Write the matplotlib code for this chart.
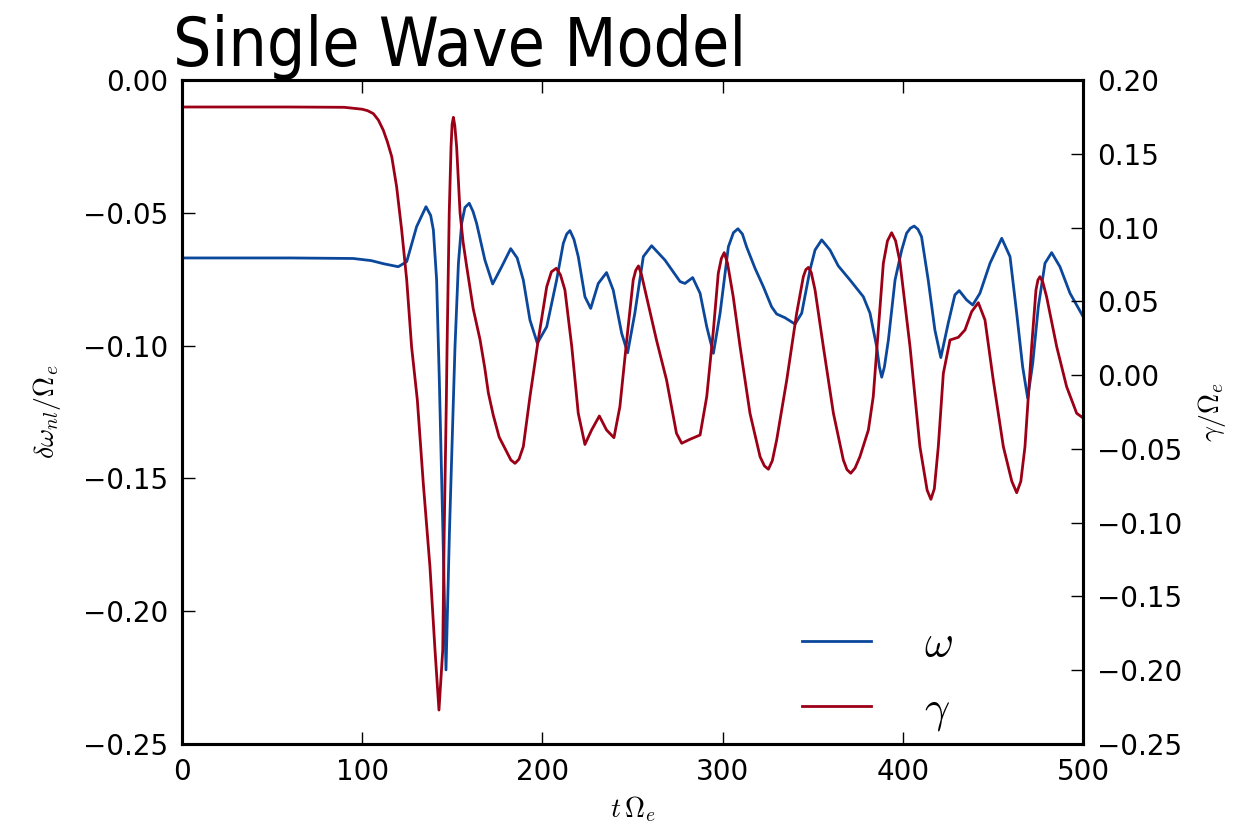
import matplotlib
matplotlib.use("Agg")
import matplotlib.pyplot as plt
from matplotlib.ticker import MultipleLocator, FuncFormatter

# ---- data ----
t_omega = [0, 60, 95, 105, 112, 120, 124.7, 130.2, 135.4, 138.0, 139.5, 141.3, 142.8,
           144.8, 146.5, 148.4, 150.6, 151.5, 153.4, 155.2, 157.0, 159.4, 161.5, 163.5,
           168.1, 172.4, 177.4, 182.4, 186.0, 189.4, 193.1, 197.2, 202.4, 207.9, 211.6,
           213.5, 215.3, 217.5, 219.9, 223.6, 226.8, 231.0, 235.6, 239.3, 244.0, 247.3,
           251.3, 256.0, 260.6, 268.0, 276.4, 279.1, 283.4, 287.5, 291.2, 294.9, 298.6,
           303.2, 306.0, 308.5, 311.0, 313.3, 318.0, 322.6, 327.2, 330.0, 334.6, 340.2,
           343.9, 348.5, 351.3, 355.0, 359.6, 364.2, 370.7, 378.1, 381.8, 385.5, 387.0,
           388.3, 389.8, 392.0, 395.7, 399.4, 402.1, 404.2, 406.3, 408.4, 410.4, 414.1,
           417.8, 421.1, 425.2, 428.9, 431.3, 435.4, 438.8, 442.8, 448.4, 454.9, 459.5,
           463.2, 466.5, 469.3, 472.1, 475.2, 478.9, 482.6, 487.2, 492.8, 500]
omega = [-0.0670, -0.0670, -0.0672, -0.0680, -0.0692, -0.0703, -0.0684, -0.0552, -0.0477,
         -0.0510, -0.0565, -0.0753, -0.1130, -0.1706, -0.2221, -0.1706, -0.1205, -0.1004,
         -0.0690, -0.0540, -0.0480, -0.0464, -0.0495, -0.0540, -0.0678, -0.0768, -0.0703,
         -0.0635, -0.0670, -0.0753, -0.0904, -0.0991, -0.0929, -0.0753, -0.0615, -0.0580,
         -0.0567, -0.0600, -0.0665, -0.0816, -0.0860, -0.0766, -0.0725, -0.0791, -0.0954,
         -0.1027, -0.0878, -0.0665, -0.0624, -0.0678, -0.0759, -0.0766, -0.0744, -0.0803,
         -0.0929, -0.1029, -0.0878, -0.0628, -0.0575, -0.0560, -0.0580, -0.0628, -0.0709,
         -0.0778, -0.0854, -0.0881, -0.0895, -0.0919, -0.0878, -0.0715, -0.0640, -0.0602,
         -0.0640, -0.0700, -0.0753, -0.0816, -0.0878, -0.1004, -0.1080, -0.1119, -0.1080,
         -0.0979, -0.0753, -0.0640, -0.0577, -0.0558, -0.0550, -0.0562, -0.0590, -0.0753,
         -0.0941, -0.1045, -0.0916, -0.0809, -0.0793, -0.0828, -0.0847, -0.0803, -0.0690,
         -0.0596, -0.0665, -0.0878, -0.1079, -0.1198, -0.1067, -0.0854, -0.0690, -0.0650,
         -0.0703, -0.0803, -0.0890]

t_gamma = [0, 60, 90, 100, 103.0, 106.2, 109.0, 111.7, 114.0, 116.4, 119.1, 121.9, 124.7,
           127.4, 130.6, 133.9, 137.6, 140.4, 142.6, 144.7, 145.5, 146.7, 147.1, 148.3,
           149.3, 149.9, 150.6, 151.4, 152.4, 154.3, 156.0, 158.0, 161.6, 165.4, 168.0,
           170.0, 172.7, 176.0, 180.2, 182.5, 184.8, 187.0, 189.4, 193.1, 197.7, 202.4,
           205.0, 207.7, 210.0, 212.5, 216.3, 219.9, 223.6, 227.3, 231.6, 235.6, 239.7,
           243.0, 246.8, 250.4, 251.8, 253.3, 255.0, 257.8, 263.3, 268.9, 274.4, 277.3,
           281.9, 287.5, 291.2, 294.9, 297.6, 299.3, 300.9, 302.7, 305.9, 309.7, 315.2,
           320.8, 323.2, 325.4, 327.6, 330.0, 335.6, 341.1, 344.8, 346.2, 347.6, 349.2,
           351.3, 355.9, 361.5, 367.0, 369.0, 371.1, 373.5, 376.2, 380.9, 383.6, 386.4,
           389.2, 391.5, 393.8, 396.0, 398.4, 404.0, 409.5, 413.5, 415.6, 417.5, 419.7,
           422.5, 426.2, 430.8, 434.5, 438.2, 441.9, 445.6, 450.2, 455.8, 460.5, 463.2,
           465.5, 467.8, 471.5, 473.9, 475.0, 476.1, 477.7, 479.8, 485.4, 490.9, 496.5, 500]
gamma = [0.1817, 0.1817, 0.1815, 0.1802, 0.1792, 0.1772, 0.1728, 0.1660, 0.1580, 0.1480,
         0.1277, 0.0984, 0.0645, 0.0193, -0.0169, -0.0734, -0.1299, -0.1863, -0.2270,
         -0.1863, -0.1070, -0.0169, 0.0193, 0.1100, 0.1548, 0.1700, 0.1747, 0.1690,
         0.1548, 0.1100, 0.0900, 0.0735, 0.0450, 0.0240, 0.0050, -0.0120, -0.0270,
         -0.0420, -0.0520, -0.0575, -0.0598, -0.0570, -0.0485, -0.0146, 0.0238, 0.0599,
         0.0700, 0.0724, 0.0680, 0.0577, 0.0193, -0.0259, -0.0470, -0.0372, -0.0277,
         -0.0372, -0.0424, -0.0214, 0.0238, 0.0645, 0.0710, 0.0740, 0.0680, 0.0531,
         0.0238, -0.0033, -0.0394, -0.0462, -0.0435, -0.0406, -0.0146, 0.0306, 0.0690,
         0.0790, 0.0830, 0.0760, 0.0531, 0.0193, -0.0259, -0.0553, -0.0615, -0.0638,
         -0.0580, -0.0440, -0.0033, 0.0419, 0.0667, 0.0715, 0.0730, 0.0695, 0.0577,
         0.0193, -0.0259, -0.0575, -0.0640, -0.0665, -0.0630, -0.0553, -0.0372, -0.0146,
         0.0306, 0.0758, 0.0910, 0.0965, 0.0910, 0.0769, 0.0193, -0.0485, -0.0780,
         -0.0842, -0.0770, -0.0485, 0.0012, 0.0238, 0.0256, 0.0306, 0.0430, 0.0491,
         0.0374, -0.0033, -0.0485, -0.0720, -0.0797, -0.0720, -0.0485, 0.0193, 0.0577,
         0.0645, 0.0667, 0.0630, 0.0531, 0.0193, -0.0078, -0.0259, -0.0290]

title_text = "Single Wave Model"
xlabel_text = r"$t\,\Omega_e$"
ylabel_left = r"$\delta\omega_{nl}/\Omega_e$"
ylabel_right = r"$\gamma/\Omega_e$"
legend_labels = [r"$\omega$", r"$\gamma$"]

BLUE = "#0b479a"
RED = "#9c0016"

plt.rcParams["mathtext.fontset"] = "cm"
plt.rcParams["font.family"] = ["DejaVu Sans"]

fig = plt.figure(figsize=(12.44, 8.27), dpi=100)
ax = fig.add_axes([182 / 1244, 1 - 744 / 827, (1083 - 182) / 1244, (744 - 80) / 827])
ax2 = ax.twinx()

l1, = ax.plot(t_omega, omega, color=BLUE, lw=2.0, label=legend_labels[0])
l2, = ax2.plot(t_gamma, gamma, color=RED, lw=2.0, label=legend_labels[1])

ax.set_xlim(0, 500)
ax.set_ylim(-0.25, 0.0)
ax2.set_ylim(-0.25, 0.20)
ax.xaxis.set_major_locator(MultipleLocator(100))
ax.yaxis.set_major_locator(MultipleLocator(0.05))
ax2.yaxis.set_major_locator(MultipleLocator(0.05))
fmt = FuncFormatter(lambda v, p: ("%.2f" % v).replace("-", "\u2212"))
ax.yaxis.set_major_formatter(fmt)
ax2.yaxis.set_major_formatter(fmt)

for a in (ax, ax2):
    for s in a.spines.values():
        s.set_linewidth(2.2)
ax.tick_params(axis="x", which="both", direction="in", top=True, bottom=True,
               length=9, width=1, labelsize=20, pad=10)
ax.tick_params(axis="y", direction="in", left=True, right=False,
               length=9, width=1, labelsize=20, pad=10)
ax2.tick_params(axis="y", direction="in", right=True, left=False,
                length=9, width=1, labelsize=20, pad=10)

ax.set_xlabel(xlabel_text, fontsize=20, labelpad=6)
ax.set_ylabel(ylabel_left, fontsize=20, labelpad=14)
ax2.set_ylabel(ylabel_right, fontsize=20, labelpad=10)

leg = ax.legend([l1, l2], legend_labels, loc="lower left",
                bbox_to_anchor=((791 - 182) / 901, 0.0), frameon=False,
                fontsize=32, handlelength=1.55, handletextpad=1.2,
                labelspacing=0.5, borderpad=0.0, borderaxespad=0.25)

fig.text(173 / 1244, 1 - 66 / 827, title_text, fontsize=48.5,
         family="DejaVu Sans", fontstretch="condensed", va="baseline", ha="left")

fig.savefig("out.png", dpi=100, facecolor="white")
